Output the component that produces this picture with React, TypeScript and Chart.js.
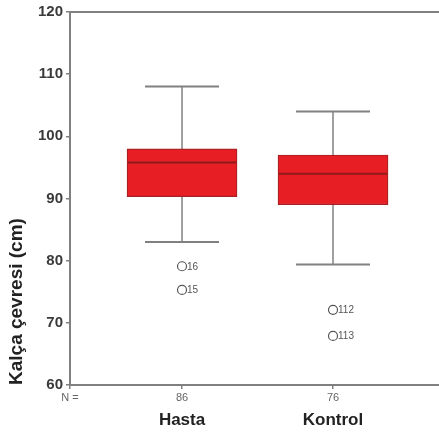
import React, { useEffect, useRef } from "react";
import { Chart, registerables } from "chart.js";

Chart.register(...registerables);

const categories = ["Hasta", "Kontrol"];
const counts = ["86", "76"];
const positions = [1, 2];
const whiskerLow = [83, 79.4];
const q1 = [90.3, 89];
const medians = [95.8, 94];
const q3 = [98, 97];
const whiskerHigh = [108, 104];
const hastaOutliers = [79.1, 75.3];
const hastaOutlierIds = ["16", "15"];
const kontrolOutliers = [72.1, 67.9];
const kontrolOutlierIds = ["112", "113"];
const yMin = 60;
const yMax = 120;
const yStep = 10;
const nLabel = "N =";

const X_MIN = 0.258;
const X_MAX = 2.702;

const outlierLabelPlugin = {
  id: "outlierLabels",
  afterDatasetsDraw(chart: any) {
    const ctx = chart.ctx;
    chart.data.datasets.forEach((ds: any, i: number) => {
      if (!ds.outlierLabels) return;
      const meta = chart.getDatasetMeta(i);
      ctx.save();
      ctx.font = "10px 'Liberation Sans', Arial, sans-serif";
      ctx.fillStyle = "#555";
      ctx.textAlign = "left";
      ctx.textBaseline = "middle";
      meta.data.forEach((el: any, j: number) => {
        ctx.fillText(ds.outlierLabels[j], el.x + 5, el.y + 0.5);
      });
      ctx.restore();
    });
  },
};

export default function App() {
  const ref = useRef<HTMLCanvasElement | null>(null);

  useEffect(() => {
    if (!ref.current) return;
    Chart.defaults.font.family = "'Liberation Sans', Arial, sans-serif";
    const gray = "#808080";
    const outlierData = [
      ...hastaOutliers.map((y) => ({ x: positions[0], y })),
      ...kontrolOutliers.map((y) => ({ x: positions[1], y })),
    ];
    const outlierLabels = [...hastaOutlierIds, ...kontrolOutlierIds];

    const whiskerSets = positions.map((x, i) => ({
      type: "line" as const,
      data: [
        { x, y: whiskerLow[i] },
        { x, y: whiskerHigh[i] },
      ],
      borderColor: gray,
      borderWidth: 1.5,
      pointRadius: 0,
      order: 2,
    }));

    const chart = new Chart(ref.current, {
      type: "bar",
      data: {
        datasets: [
          {
            type: "scatter",
            data: positions.map((x, i) => ({ x, y: medians[i] })),
            pointStyle: "line",
            pointRadius: 54,
            borderColor: "#8e1a1c",
            borderWidth: 2,
            order: 0,
          } as any,
          {
            type: "scatter",
            data: outlierData,
            outlierLabels,
            pointStyle: "circle",
            pointRadius: 4.5,
            backgroundColor: "#ffffff",
            borderColor: "#555",
            borderWidth: 1.2,
            order: 0,
          } as any,
          {
            type: "bar",
            data: positions.map((x, i) => ({ x, y: [q1[i], q3[i]] })),
            backgroundColor: "#e81e25",
            borderColor: "#a52022",
            borderWidth: 1.2,
            borderSkipped: false,
            barThickness: 110,
            order: 1,
          } as any,
          ...whiskerSets,
          {
            type: "scatter",
            data: [
              ...positions.map((x, i) => ({ x, y: whiskerLow[i] })),
              ...positions.map((x, i) => ({ x, y: whiskerHigh[i] })),
            ],
            pointStyle: "line",
            pointRadius: 37,
            borderColor: gray,
            borderWidth: 2,
            order: 2,
          } as any,
        ],
      },
      options: {
        animation: false,
        responsive: false,
        layout: { autoPadding: false, padding: { top: 12, left: 0, right: 0, bottom: 0 } },
        plugins: {
          legend: { display: false },
          tooltip: { enabled: false },
        },
        scales: {
          x: {
            type: "linear",
            position: "bottom",
            min: X_MIN,
            max: X_MAX,
            offset: false,
            afterBuildTicks: (scale: any) => {
              scale.ticks = [{ value: X_MIN }, ...positions.map((p) => ({ value: p }))];
            },
            afterFit: (scale: any) => {
              scale.height = 20;
            },
            ticks: {
              autoSkip: false,
              maxRotation: 0,
              padding: 2,
              color: "#666",
              font: { size: 11 },
              callback: (v: any) => {
                const idx = positions.indexOf(Number(v));
                return idx >= 0 ? counts[idx] : nLabel;
              },
            },
            grid: {
              display: true,
              offset: false,
              drawOnChartArea: false,
              drawTicks: true,
              tickLength: 4,
              color: gray,
              lineWidth: 1.5,
            },
            border: { display: true, color: gray, width: 2 },
          },
          xCat: {
            type: "linear",
            position: "bottom",
            min: X_MIN,
            max: X_MAX,
            offset: false,
            afterBuildTicks: (scale: any) => {
              scale.ticks = positions.map((p) => ({ value: p }));
            },
            afterFit: (scale: any) => {
              scale.height = 30;
            },
            ticks: {
              autoSkip: false,
              maxRotation: 0,
              padding: 5,
              color: "#222",
              font: { size: 17, weight: "bold" },
              callback: (v: any) => {
                const idx = positions.indexOf(Number(v));
                return idx >= 0 ? categories[idx] : "";
              },
            },
            grid: { display: false, offset: false, drawTicks: false },
            border: { display: false },
          },
          xTop: {
            type: "linear",
            position: "top",
            min: X_MIN,
            max: X_MAX,
            offset: false,
            afterFit: (scale: any) => {
              scale.height = 0;
            },
            ticks: { display: false },
            grid: { display: true, offset: false, drawOnChartArea: false, drawTicks: false },
            border: { display: true, color: gray, width: 2 },
          },
          y: {
            type: "linear",
            position: "left",
            min: yMin,
            max: yMax,
            afterFit: (scale: any) => {
              scale.width = 70;
            },
            ticks: {
              stepSize: yStep,
              padding: 3,
              color: "#3a3a3a",
              font: { size: 15, weight: "bold" },
            },
            grid: {
              display: true,
              drawOnChartArea: false,
              drawTicks: true,
              tickLength: 4,
              color: gray,
              lineWidth: 1.5,
            },
            border: { display: true, color: gray, width: 2 },
            title: {
              display: true,
              text: "Kalça çevresi (cm)",
              align: "start",
              color: "#222",
              font: { size: 19, weight: "bold" },
              padding: { top: 5, bottom: 0 },
            },
          },
        },
      } as any,
      plugins: [outlierLabelPlugin],
    });
    return () => chart.destroy();
  }, []);

  return (
    <div style={{ position: "fixed", left: 0, top: 0, width: 439, height: 435, background: "#fff" }}>
      <canvas ref={ref} width={439} height={435} style={{ display: "block" }} />
    </div>
  );
}
